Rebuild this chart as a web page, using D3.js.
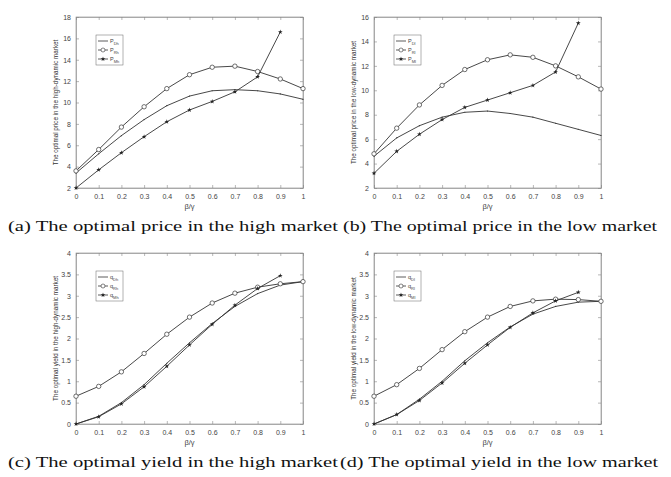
<!DOCTYPE html>
<html><head><meta charset="utf-8">
<script src="https://cdn.jsdelivr.net/npm/d3@7"></script>
<style>body{margin:0;background:#fff}svg{display:block}</style>
</head><body>
<svg id="c" width="671" height="477"></svg>
<script>
const xs = [0,0.1,0.2,0.3,0.4,0.5,0.6,0.7,0.8,0.9,1];
const pDh = [3.4,5.2,6.9,8.4,9.7,10.6,11.1,11.2,11.1,10.8,10.3];
const pRh = [3.6,5.6,7.7,9.6,11.3,12.6,13.3,13.4,12.9,12.2,11.3];
const pMh = [2.0,3.7,5.3,6.8,8.2,9.3,10.1,11.0,12.4,16.6];
const pDl = [4.6,6.1,7.1,7.8,8.2,8.3,8.1,7.8,7.3,6.8,6.3];
const pRl = [4.8,6.9,8.8,10.4,11.7,12.5,12.9,12.7,12.0,11.1,10.1];
const pMl = [3.2,5.0,6.4,7.6,8.6,9.2,9.8,10.4,11.5,15.5];
const qDh = [0,0.18,0.5,0.92,1.42,1.9,2.35,2.75,3.05,3.25,3.33];
const qRh = [0.65,0.88,1.22,1.65,2.1,2.5,2.83,3.06,3.2,3.28,3.33];
const qMh = [0,0.17,0.47,0.87,1.35,1.85,2.33,2.78,3.17,3.47];
const qDl = [0,0.22,0.58,1.0,1.48,1.9,2.27,2.57,2.75,2.85,2.87];
const qRl = [0.65,0.92,1.3,1.74,2.16,2.5,2.75,2.88,2.92,2.91,2.87];
const qMl = [0,0.22,0.55,0.96,1.42,1.85,2.26,2.6,2.88,3.08];

const panels = [
  {x0:76,y0:17,dom:[2,18],ticks:d3.range(2,19,2),ylab:"The optimal price in the high-dynamic market",
   series:[pDh,pRh,pMh],sym:"P",subs:["Dh","Rh","Mh"],cap:"(a) The optimal price in the high market",cx:8,cy:231,cw:330},
  {x0:374,y0:17,dom:[2,16],ticks:d3.range(2,17,2),ylab:"The optimal price in the low-dynamic market",
   series:[pDl,pRl,pMl],sym:"P",subs:["Dl","Rl","Ml"],cap:"(b) The optimal price in the low market",cx:343,cy:231,cw:314},
  {x0:76,y0:253,dom:[0,4],ticks:d3.range(0,4.01,0.5),ylab:"The optimal yield in the high-dynamic market",
   series:[qDh,qRh,qMh],sym:"q",subs:["Dh","Rh","Mh"],cap:"(c) The optimal yield in the high market",cx:8,cy:467,cw:330},
  {x0:374,y0:253,dom:[0,4],ticks:d3.range(0,4.01,0.5),ylab:"The optimal yield in the low-dynamic market",
   series:[qDl,qRl,qMl],sym:"q",subs:["Dl","Rl","Ml"],cap:"(d) The optimal yield in the low market",cx:340,cy:467,cw:318}
];
const W = 227, H = 171;
const svg = d3.select("#c");
const star = d3.symbol().type(d3.symbolStar).size(7);

panels.forEach(p => {
  const g = svg.append("g").attr("transform", `translate(${p.x0},${p.y0})`);
  const x = d3.scaleLinear().domain([0,1]).range([0,W]);
  const y = d3.scaleLinear().domain(p.dom).range([H,0]);
  const fmt = d => d3.format("~g")(d);
  const st = s => s.selectAll("text").attr("fill","#444").style("font-family","Arial, Liberation Sans").style("font-size","7px");
  g.append("g").attr("transform",`translate(0,${H})`)
    .call(d3.axisBottom(x).tickValues(xs).tickFormat(fmt).tickSizeInner(-3).tickSizeOuter(0).tickPadding(6))
    .call(st);
  g.append("g").call(d3.axisLeft(y).tickValues(p.ticks).tickFormat(fmt).tickSizeInner(-3).tickSizeOuter(0).tickPadding(5)).call(st);
  g.append("g").call(d3.axisTop(x).tickValues(xs).tickFormat("").tickSizeInner(-3).tickSizeOuter(0));
  g.append("g").attr("transform",`translate(${W},0)`).call(d3.axisRight(y).tickValues(p.ticks).tickFormat("").tickSizeInner(-3).tickSizeOuter(0));
  g.selectAll(".domain,.tick line").attr("stroke","#888").attr("stroke-width",0.6);
  g.append("rect").attr("width",W).attr("height",H).attr("fill","none").attr("stroke","#888").attr("stroke-width",0.6);
  g.append("text").attr("x",W/2).attr("y",H+21).attr("text-anchor","middle").attr("fill","#444")
    .style("font-family","Arial, Liberation Sans").style("font-size","7.5px").text("β/γ");
  g.append("text").attr("transform",`translate(-18,${H/2}) rotate(-90)`).attr("text-anchor","middle").attr("fill","#333")
    .style("font-family","Arial, Liberation Sans").style("font-size","6.3px").text(p.ylab);

  const line = d3.line().x((d,i)=>x(xs[i])).y(d=>y(d));
  p.series.forEach((s,k) => {
    g.append("path").datum(s).attr("d",line).attr("fill","none").attr("stroke","#333").attr("stroke-width",0.9);
    const pts = g.selectAll(null).data(s).enter();
    if (k===1) pts.append("circle").attr("cx",(d,i)=>x(xs[i])).attr("cy",d=>y(d)).attr("r",2.2)
      .attr("fill","#fff").attr("stroke","#333").attr("stroke-width",0.7);
    if (k===2) pts.append("path").attr("d",star).attr("transform",(d,i)=>`translate(${x(xs[i])},${y(d)})`).attr("fill","#222");
    if (k===0) pts.append("circle").attr("cx",(d,i)=>x(xs[i])).attr("cy",d=>y(d)).attr("r",0.6).attr("fill","#333");
  });

  const lg = g.append("g").attr("transform","translate(20,18)");
  lg.append("rect").attr("width",27).attr("height",30).attr("fill","#fff").attr("stroke","#666").attr("stroke-width",0.5);
  p.subs.forEach((sb,k) => {
    const yy = 6 + k*9;
    lg.append("line").attr("x1",2).attr("x2",12).attr("y1",yy).attr("y2",yy).attr("stroke","#333").attr("stroke-width",0.8);
    if (k===1) lg.append("circle").attr("cx",7).attr("cy",yy).attr("r",2).attr("fill","#fff").attr("stroke","#333").attr("stroke-width",0.6);
    if (k===2) lg.append("path").attr("d",star).attr("transform",`translate(7,${yy})`).attr("fill","#222");
    const t = lg.append("text").attr("x",14).attr("y",yy+2).attr("fill","#444").style("font-family","Arial, Liberation Sans").style("font-size","5.5px");
    t.append("tspan").text(p.sym);
    t.append("tspan").attr("dy",1.5).style("font-size","4px").text(sb);
  });

  svg.append("text").attr("x",p.cx).attr("y",p.cy).attr("fill","#111")
    .attr("textLength",p.cw).attr("lengthAdjust","spacingAndGlyphs")
    .style("font-family","Liberation Serif, DejaVu Serif").style("font-size","15px").text(p.cap);
});
</script>
</body></html>
